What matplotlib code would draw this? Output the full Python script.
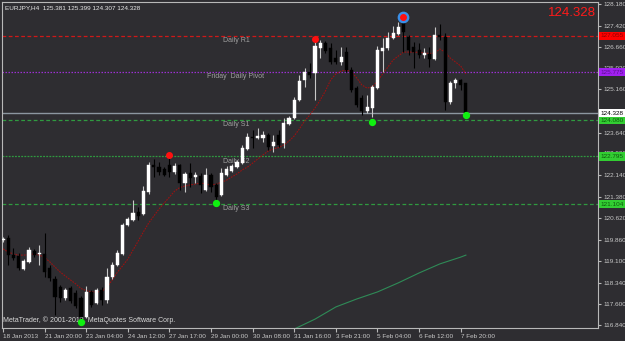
#!/usr/bin/env python3
"""EURJPY H4 candles with daily pivot levels, MetaTrader style."""
import matplotlib
matplotlib.use("Agg")
import matplotlib.pyplot as plt
import matplotlib.transforms as mtransforms

# ---- data -------------------------------------------------------------------
opens = [119.84, 119.92, 119.31, 119.28, 118.82, 119.07, 119.46, 119.35, 119.35, 118.86,
         118.47, 118.18, 117.80, 118.15, 117.97, 117.80, 117.12, 118.01, 117.62, 118.08,
         117.73, 118.54, 118.96, 119.35, 120.37, 120.55, 120.83, 120.76, 121.54, 122.49,
         122.42, 122.35, 122.49, 122.25, 122.49, 121.86, 122.21, 122.07, 122.10, 121.61,
         122.14, 121.79, 121.43, 122.14, 122.28, 122.42, 122.56, 123.06, 123.48, 123.45,
         123.45, 123.55, 123.16, 123.55, 123.27, 123.94, 124.15, 124.79, 125.50, 125.78,
         125.74, 126.63, 126.80, 126.63, 126.27, 126.13, 126.48, 125.85, 125.21, 124.86,
         124.40, 124.51, 125.21, 126.52, 126.63, 126.98, 127.12, 127.51, 127.01, 126.66,
         126.55, 126.38, 126.41, 126.24, 127.09, 127.01, 124.72, 125.39, 125.50, 125.381]
highs = [119.95, 120.02, 119.56, 119.39, 119.17, 119.60, 119.53, 119.67, 120.09, 118.96,
         118.57, 118.26, 118.15, 118.22, 118.08, 117.87, 118.22, 118.08, 118.15, 118.18,
         118.86, 119.07, 119.49, 120.44, 120.66, 121.26, 121.01, 121.75, 122.60, 122.71,
         122.60, 122.42, 122.78, 122.56, 122.53, 122.25, 122.56, 122.25, 122.21, 122.39,
         122.21, 121.86, 122.39, 122.46, 122.53, 122.67, 123.20, 123.62, 123.73, 123.80,
         123.69, 123.62, 123.55, 123.73, 124.15, 124.22, 124.90, 125.67, 125.92, 126.10,
         126.94, 126.91, 126.87, 126.80, 126.55, 126.66, 126.66, 125.95, 125.28, 124.97,
         124.97, 125.32, 126.70, 126.98, 127.19, 127.40, 127.54, 127.76, 127.09, 126.84,
         126.80, 126.63, 126.66, 127.37, 127.47, 127.16, 125.46, 125.57, 125.53, 125.399]
lows = [119.77, 118.96, 119.14, 118.79, 118.79, 119.03, 119.24, 118.96, 118.54, 118.40,
        117.20, 117.65, 117.73, 117.62, 117.44, 116.98, 117.09, 117.48, 117.58, 117.55,
        117.62, 118.47, 118.93, 119.31, 120.34, 120.52, 120.55, 120.73, 121.47, 122.07,
        122.14, 122.10, 122.07, 122.18, 121.61, 121.54, 121.72, 121.86, 121.50, 121.57,
        121.54, 121.22, 121.40, 122.10, 122.25, 122.39, 122.53, 123.02, 123.09, 123.41,
        123.31, 123.02, 122.95, 123.13, 123.09, 123.91, 124.12, 124.75, 125.25, 125.57,
        124.79, 126.27, 126.45, 126.06, 126.06, 126.03, 125.78, 125.07, 124.54, 124.26,
        124.33, 124.19, 125.18, 125.78, 126.55, 126.94, 127.09, 126.48, 126.38, 125.92,
        126.27, 126.27, 125.95, 126.20, 126.91, 124.44, 124.65, 125.21, 125.14, 124.307]
closes = [119.88, 119.31, 119.21, 118.86, 119.10, 119.49, 119.31, 119.39, 118.71, 118.50,
          117.83, 117.80, 118.08, 117.69, 117.51, 117.12, 118.01, 117.55, 118.08, 117.73,
          118.54, 118.96, 119.39, 120.37, 120.59, 120.80, 120.69, 121.57, 122.49, 122.42,
          122.25, 122.14, 122.25, 122.46, 121.86, 122.18, 122.03, 122.14, 121.79, 122.14,
          121.72, 121.36, 122.21, 122.35, 122.46, 122.60, 123.09, 123.48, 123.45, 123.52,
          123.55, 123.13, 123.31, 123.20, 123.98, 124.15, 124.79, 125.46, 125.78, 125.67,
          126.70, 126.80, 126.52, 126.13, 126.13, 126.31, 125.85, 125.14, 124.61, 124.40,
          124.54, 125.25, 126.55, 126.63, 126.98, 127.16, 127.37, 127.19, 126.55, 126.48,
          126.38, 126.45, 126.24, 127.09, 127.01, 124.72, 125.39, 125.50, 125.32, 124.328]

# dark red moving average, one value per bar
ma_fast = [119.53, 119.42, 119.35, 119.31, 119.31, 119.33, 119.35, 119.31, 119.23, 119.07,
           118.89, 118.71, 118.57, 118.43, 118.29, 118.13, 118.06, 118.01, 118.01, 118.03,
           118.18, 118.43, 118.71, 118.93, 119.17, 119.49, 119.81, 120.13, 120.44, 120.69,
           120.94, 121.15, 121.36, 121.57, 121.70, 121.75, 121.79, 121.82, 121.86, 121.82,
           121.79, 121.82, 121.88, 121.96, 122.07, 122.18, 122.32, 122.42, 122.56, 122.71,
           122.85, 122.99, 123.06, 123.11, 123.20, 123.34, 123.52, 123.77, 124.05, 124.26,
           124.51, 124.79, 125.11, 125.50, 125.71, 125.81, 125.85, 125.78, 125.57, 125.32,
           125.21, 125.25, 125.46, 125.71, 125.95, 126.20, 126.34, 126.48, 126.48, 126.48,
           126.47, 126.45, 126.43, 126.45, 126.59, 126.48, 126.27, 126.13, 125.99, 125.71]

# slow green average entering from the bottom
ma_slow_bars = [55, 56, 60, 64, 68, 72, 76, 80, 84, 88, 89]
ma_slow = [116.60, 116.70, 117.05, 117.48, 117.76, 118.01, 118.33, 118.68, 119.00, 119.24, 119.31]

fractal_up_bars = [32, 60, 77]
fractal_up = [122.85, 126.94, 127.72]
fractal_dn_bars = [15, 41, 71, 89]
fractal_dn = [116.95, 121.15, 124.01, 124.26]

level_names = ["Daily R1", "Friday  Daily Pivot", "Daily S1", "Daily S2", "Daily S3"]
level_values = [127.055, 125.775, 124.080, 122.795, 121.104]
last_price = 124.328

time_labels = ["18 Jan 2013", "21 Jan 20:00", "23 Jan 04:00", "24 Jan 12:00",
               "27 Jan 17:00", "29 Jan 00:00", "30 Jan 08:00", "31 Jan 16:00",
               "3 Feb 21:00", "5 Feb 04:00", "6 Feb 12:00", "7 Feb 20:00"]
price_ticks = [128.180, 127.420, 126.660, 125.930, 125.160, 123.640, 122.900, 122.140,
               121.380, 120.620, 119.860, 119.100, 118.340, 117.600, 116.840]

# ---- figure -----------------------------------------------------------------
BG = "#2e2d31"
TXT = "#c8c8c8"
FS = 4.6
plt.rcParams["font.family"] = ["Liberation Sans", "DejaVu Sans"]

fig = plt.figure(figsize=(6.25, 3.41), dpi=100, facecolor=BG)
ax = fig.add_axes([2 / 625, 13 / 341, 596 / 625, 326 / 341], facecolor=BG)

n = len(opens)
xs = list(range(n))

# level lines
level_styles = [
    ("#d01818", (0, (3, 2))),
    ("#9a30d0", (0, (1.2, 1.2))),
    ("#2f9a40", (0, (3, 2))),
    ("#2f9a40", (0, (1.5, 1))),
    ("#2f9a40", (0, (3, 2))),
]
for (c, ls), v in zip(level_styles, level_values):
    ax.axhline(v, color=c, lw=0.9, ls=ls, zorder=1)
ax.axhline(last_price, color="#8c96a0", lw=1.0, zorder=1)

label_x = [42.3, 39.3, 42.3, 42.3, 42.3]
for name, v, lx in zip(level_names, level_values, label_x):
    ax.text(lx, v - 0.04, name, color="#a0a0a0", fontsize=5.0, va="top", ha="left", zorder=2)

# moving averages
ax.plot(xs, ma_fast, color="#9b1212", lw=0.8, ls=(0, (1.5, 1)), zorder=2)
ax.plot(ma_slow_bars, ma_slow, color="#2e8b57", lw=0.8, zorder=2)

# candles
for i in xs:
    up = closes[i] >= opens[i]
    col = "#ffffff" if up else "#000000"
    wick = "#c8c8c8" if up else "#000000"
    ax.vlines(i, lows[i], highs[i], color=wick, lw=0.8, zorder=3)
    body = closes[i] - opens[i]
    if abs(body) < 0.02:
        body = 0.02 if up else -0.02
    ax.bar(i, body, bottom=opens[i], width=0.6, color=col, edgecolor=col,
           lw=0.3, zorder=4)

# fractal markers
ax.scatter([fractal_up_bars[2]], [fractal_up[2]], s=55, color="#3a8fe8", zorder=5)
ax.scatter(fractal_up_bars, fractal_up, s=16, color="#ff1010", zorder=6)
ax.scatter(fractal_dn_bars, fractal_dn, s=18, color="#10f010", zorder=6)

# axes
ax.set_xlim(-0.19, 114.4)
ax.set_ylim(116.736, 128.25)
for sp in ax.spines.values():
    sp.set_color("#b8b8b8")
    sp.set_linewidth(0.8)

ax.set_xticks(range(0, n, 8))
ax.set_xticklabels(time_labels, ha="left")
ax.tick_params(axis="x", colors="#b8b8b8", labelcolor=TXT, labelsize=FS,
               length=3, pad=1.5)
ax.yaxis.tick_right()
ax.set_yticks(price_ticks)
ax.set_yticklabels([f"{p:.3f}" for p in price_ticks])
ax.tick_params(axis="y", colors="#b8b8b8", labelcolor=TXT, labelsize=FS,
               length=2, pad=2)

# coloured price boxes on the right scale
trans = mtransforms.blended_transform_factory(ax.transAxes, ax.transData)
box_colors = [("#ff0000", "#900000"), ("#a020f0", "#5a1090"), ("#32cd32", "#0c5a0c"),
              ("#32cd32", "#0c5a0c"), ("#32cd32", "#0c5a0c")]
for (fc, tc), v in zip(box_colors, level_values):
    ax.text(1.005, v, f"{v:.3f}", transform=trans, fontsize=FS, color=tc,
            va="center", ha="left", clip_on=False, zorder=10,
            bbox=dict(boxstyle="square,pad=0.25", fc=fc, ec="none"))
ax.text(1.005, last_price, f"{last_price:.3f}", transform=trans, fontsize=FS,
        color="#000000", va="center", ha="left", clip_on=False, zorder=10,
        bbox=dict(boxstyle="square,pad=0.25", fc="#ffffff", ec="none"))

# header / footer texts
ax.text(0.005, 0.99, f"EURJPY,H4  {opens[-1]:.3f} {highs[-1]:.3f} {lows[-1]:.3f} {closes[-1]:.3f}",
        transform=ax.transAxes, color="#e8e8e8", fontsize=4.6, va="top", ha="left")
ax.text(0.997, 0.985, f"{last_price:.3f}", transform=ax.transAxes, color="#ff1a1a",
        fontsize=9.5, va="top", ha="right")
ax.text(0.002, 0.012, "MetaTrader, \u00a9 2001-2013, MetaQuotes Software Corp.",
        transform=ax.transAxes, color="#d8d8d8", fontsize=5.0, va="bottom", ha="left")

fig.savefig("out.png", dpi=100, facecolor=BG)
